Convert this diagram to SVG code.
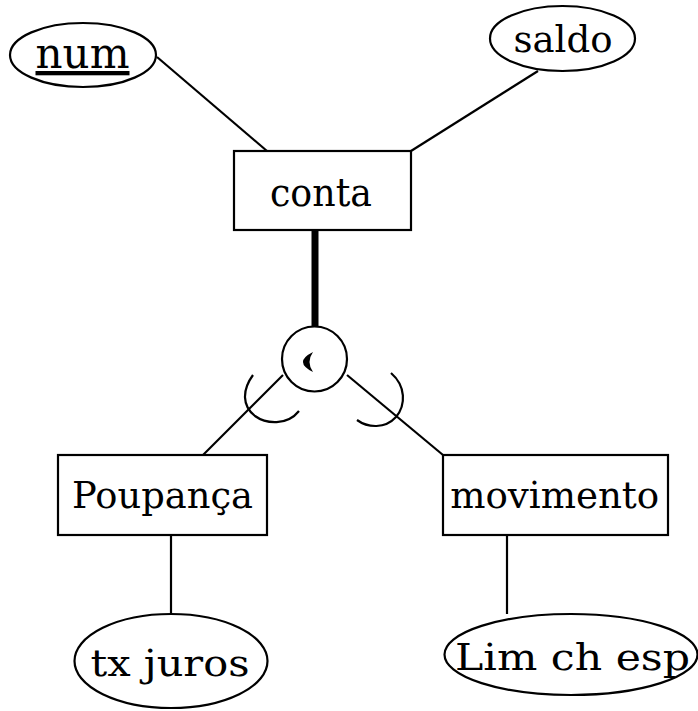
<svg xmlns="http://www.w3.org/2000/svg" width="698" height="711" viewBox="0 0 698 711">
  <style>
    .shape { fill: #ffffff; stroke: #000000; stroke-width: 2.2; }
    .link { fill: none; stroke: #000000; stroke-width: 2.2; }
    .thick { fill: none; stroke: #000000; stroke-width: 7; }
    .lbl { font-family: "DejaVu Serif", "Liberation Serif", serif; fill: #000000; text-anchor: middle; }
  </style>
  <rect x="0" y="0" width="698" height="711" fill="#ffffff"/>
  <text x="133" y="-7" font-family="DejaVu Sans, sans-serif" font-weight="bold" font-size="30" fill="#000000">y</text>
  <g id="connectors">
    <line class="link" x1="157" y1="57" x2="267" y2="151"/>
    <line class="link" x1="538" y1="71" x2="411" y2="151"/>
    <line class="thick" x1="315" y1="230" x2="315" y2="327"/>
    <line class="link" x1="283" y1="375" x2="203" y2="455"/>
    <line class="link" x1="347" y1="375" x2="443" y2="455"/>
    <line class="link" x1="171" y1="535" x2="171" y2="613"/>
    <line class="link" x1="507" y1="535" x2="507" y2="614"/>
    <path class="link" d="M253,375 C242,390 242,406 255,416 C266,424 287,426 299,411"/>
    <path class="link" d="M391,373 C406,386 406,405 396,417 C385,429 368,428 357,420"/>
  </g>
  <g id="num">
    <ellipse class="shape" cx="83" cy="55" rx="73" ry="32"/>
    <text class="lbl" x="82.5" y="68" font-size="43" textLength="94" lengthAdjust="spacingAndGlyphs" text-decoration="underline">num</text>
  </g>
  <g id="saldo">
    <ellipse class="shape" cx="562.5" cy="38.5" rx="72.5" ry="32.5"/>
    <text class="lbl" x="563" y="52" font-size="37" textLength="99" lengthAdjust="spacingAndGlyphs">saldo</text>
  </g>
  <g id="conta">
    <rect class="shape" x="234" y="151" width="177" height="79"/>
    <text class="lbl" x="321" y="206" font-size="39" textLength="102" lengthAdjust="spacingAndGlyphs">conta</text>
  </g>
  <g id="especializacao">
    <circle class="shape" cx="314.5" cy="359" r="32.5"/>
    <path d="M313,352 Q293,362 313,372 Q306,362 313,352 Z" fill="#000000"/>
  </g>
  <g id="poupanca">
    <rect class="shape" x="58" y="455" width="209" height="80"/>
    <text class="lbl" x="162.5" y="508" font-size="37" textLength="181" lengthAdjust="spacingAndGlyphs">Poupança</text>
  </g>
  <g id="movimento">
    <rect class="shape" x="443" y="455" width="225" height="80"/>
    <text class="lbl" x="554.7" y="507.7" font-size="38" textLength="209" lengthAdjust="spacingAndGlyphs">movimento</text>
  </g>
  <g id="tx-juros">
    <ellipse class="shape" cx="171" cy="661" rx="96.5" ry="47"/>
    <text class="lbl" x="170" y="676" font-size="38" textLength="159" lengthAdjust="spacingAndGlyphs">tx juros</text>
  </g>
  <g id="lim-ch-esp">
    <ellipse class="shape" cx="571" cy="654.5" rx="126.5" ry="40.5"/>
    <text class="lbl" x="572.5" y="670" font-size="37" textLength="235" lengthAdjust="spacingAndGlyphs">Lim ch esp</text>
  </g>
</svg>
